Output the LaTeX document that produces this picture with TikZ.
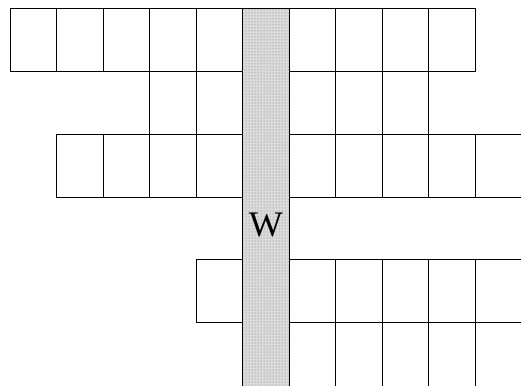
\documentclass[tikz,border=0pt]{standalone}
\usepackage{fontspec}
\setmainfont{Liberation Serif}
\usetikzlibrary{patterns}

\begin{document}
\begin{tikzpicture}[x=1pt,y=-1pt,line width=1pt]
  \path[use as bounding box] (0,0) rectangle (521,385);
  % walkway
  \fill[black!14] (242.5,9) rectangle (289,395);
  \fill[pattern=dots,pattern color=black!55] (242.5,9) rectangle (289,395);
  \draw (242.5,395) -- (242.5,9) -- (289,9) -- (289,395);
  % left stalls
  \foreach \c/\r in {0/0,1/0,2/0,3/0,4/0,3/1,4/1,1/2,2/2,3/2,4/2,4/4}{
    \draw ({10+46.5*\c},{9+62.67*\r}) rectangle +(46.5,62.67);
  }
  % right stalls
  \foreach \c/\r in {0/0,1/0,2/0,3/0,0/1,1/1,2/1,0/2,1/2,2/2,3/2,4/2,
                     0/4,1/4,2/4,3/4,4/4}{
    \draw ({289+46.5*\c},{9+62.67*\r}) rectangle +(46.5,62.67);
  }
  \foreach \c in {0,...,4}{
    \draw ({289+46.5*\c},322.33) rectangle +(46.5,70);
  }
  \draw (289,197) rectangle (530,259.67);
  \node[font=\fontsize{36}{40}\selectfont,inner sep=0] (walk) at (265.75,225) {W};
\end{tikzpicture}
\end{document}
